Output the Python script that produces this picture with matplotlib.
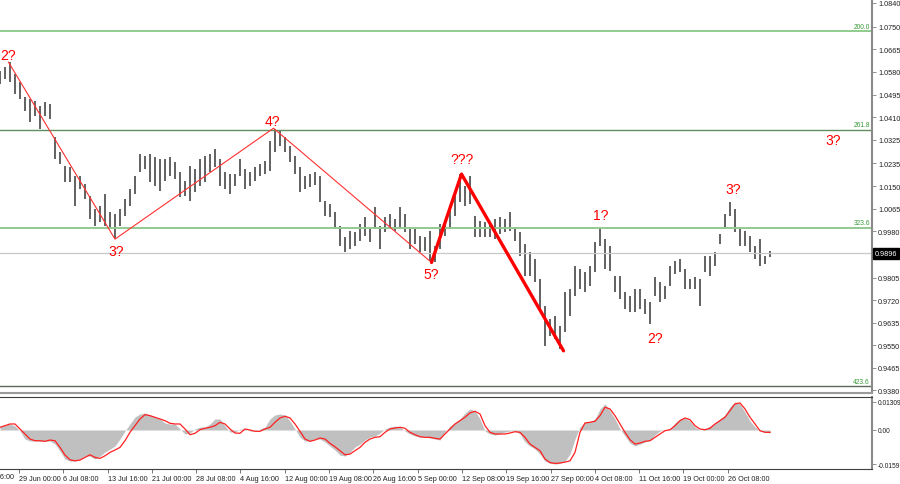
import numpy as np
import matplotlib.pyplot as plt
from matplotlib.transforms import blended_transform_factory

plt.rcParams['font.family'] = ['Liberation Sans', 'DejaVu Sans']

# H4 price bars (every bar here stands for one ~5px column of the chart)
highs = [1.0584, 1.0599, 1.0617, 1.0572, 1.0542, 1.0486, 1.0478, 1.0470, 1.0452, 1.0467,
         1.0459, 1.0335, 1.0278, 1.0225, 1.0222, 1.0188, 1.0188, 1.0158, 1.0112, 1.0063,
         1.0075, 1.0120, 1.0052, 1.0044, 1.0063, 1.0101, 1.0139, 1.0188, 1.0271, 1.0263,
         1.0271, 1.0259, 1.0252, 1.0252, 1.0259, 1.0240, 1.0203, 1.0169, 1.0225, 1.0214,
         1.0252, 1.0263, 1.0271, 1.0290, 1.0252, 1.0203, 1.0195, 1.0195, 1.0252, 1.0214,
         1.0203, 1.0222, 1.0233, 1.0244, 1.0320, 1.0365, 1.0361, 1.0335, 1.0301, 1.0263,
         1.0222, 1.0188, 1.0195, 1.0203, 1.0188, 1.0093, 1.0082, 1.0052, 0.9999, 0.9958,
         0.9980, 0.9977, 1.0007, 1.0033, 0.9988, 1.0071, 0.9999, 1.0033, 1.0044, 1.0026,
         1.0071, 1.0044, 0.9995, 0.9988, 0.9962, 0.9958, 0.9980, 0.9924, 1.0007, 1.0018,
         1.0075, 1.0112, 1.0195, 1.0150, 1.0188, 1.0037, 1.0018, 1.0014, 1.0007, 1.0026,
         1.0033, 1.0026, 1.0052, 0.9995, 0.9977, 0.9931, 0.9901, 0.9875, 0.9799, 0.9698,
         0.9649, 0.9660, 0.9622, 0.9750, 0.9762, 0.9848, 0.9837, 0.9826, 0.9848, 0.9939,
         0.9995, 0.9950, 0.9924, 0.9811, 0.9811, 0.9750, 0.9735, 0.9762, 0.9762, 0.9724,
         0.9713, 0.9807, 0.9788, 0.9773, 0.9848, 0.9867, 0.9875, 0.9837, 0.9799, 0.9807,
         0.9799, 0.9886, 0.9886, 0.9901, 0.9969, 1.0044, 1.0090, 1.0063, 0.9988, 0.9980,
         0.9962, 0.9924, 0.9950, 0.9886, 0.9905]
lows = [1.0535, 1.0553, 1.0542, 1.0497, 1.0478, 1.0433, 1.0391, 1.0414, 1.0365, 1.0414,
        1.0403, 1.0252, 1.0233, 1.0165, 1.0165, 1.0075, 1.0139, 1.0101, 1.0026, 0.9999,
        1.0014, 0.9999, 0.9988, 0.9950, 0.9999, 1.0037, 1.0075, 1.0120, 1.0203, 1.0214,
        1.0165, 1.0150, 1.0131, 1.0169, 1.0188, 1.0176, 1.0109, 1.0112, 1.0093, 1.0127,
        1.0150, 1.0165, 1.0203, 1.0222, 1.0150, 1.0139, 1.0120, 1.0150, 1.0188, 1.0139,
        1.0150, 1.0169, 1.0188, 1.0195, 1.0207, 1.0278, 1.0301, 1.0278, 1.0240, 1.0195,
        1.0127, 1.0139, 1.0146, 1.0154, 1.0090, 1.0037, 1.0033, 0.9988, 0.9924, 0.9901,
        0.9913, 0.9924, 0.9943, 0.9962, 0.9939, 0.9988, 0.9913, 0.9977, 0.9995, 0.9980,
        0.9988, 0.9977, 0.9913, 0.9931, 0.9901, 0.9905, 0.9867, 0.9863, 0.9913, 0.9962,
        0.9988, 1.0037, 1.0090, 1.0075, 1.0082, 0.9958, 0.9958, 0.9958, 0.9958, 0.9950,
        0.9969, 0.9977, 0.9980, 0.9943, 0.9886, 0.9811, 0.9811, 0.9788, 0.9686, 0.9547,
        0.9585, 0.9573, 0.9535, 0.9600, 0.9660, 0.9735, 0.9762, 0.9750, 0.9773, 0.9826,
        0.9924, 0.9837, 0.9830, 0.9750, 0.9724, 0.9686, 0.9675, 0.9675, 0.9686, 0.9667,
        0.9630, 0.9735, 0.9713, 0.9724, 0.9773, 0.9818, 0.9826, 0.9762, 0.9762, 0.9762,
        0.9698, 0.9826, 0.9811, 0.9848, 0.9931, 0.9988, 1.0037, 0.9977, 0.9924, 0.9924,
        0.9901, 0.9875, 0.9848, 0.9856, 0.9882]

# MACD panel
macd_hist = [0.00140, 0.00234, 0.00281, 0.00187, -0.00047, -0.00421, -0.00515, -0.00515, -0.00515, -0.00515,
             -0.00515, -0.00655, -0.00983, -0.01357, -0.01451, -0.01451, -0.01357, -0.01217, -0.01217, -0.01357,
             -0.01217, -0.01030, -0.00889, -0.00749, -0.00421, -0.00047, 0.00281, 0.00608, 0.00749, 0.00796,
             0.00702, 0.00608, 0.00515, 0.00328, 0.00281, 0.00281, 0.00047, -0.00187, -0.00140, 0.00047,
             0.00140, 0.00140, 0.00281, 0.00515, 0.00515, 0.00187, -0.00094, -0.00094, 0.00047, 0.00047,
             -0.00047, -0.00047, 0.00047, 0.00140, 0.00515, 0.00702, 0.00749, 0.00702, 0.00421, 0.00047,
             -0.00328, -0.00515, -0.00515, -0.00421, -0.00421, -0.00562, -0.00749, -0.00936, -0.01170, -0.01217,
             -0.01030, -0.00796, -0.00655, -0.00468, -0.00328, -0.00281, -0.00140, 0.00047, 0.00140, 0.00187,
             0.00140, -0.00047, -0.00187, -0.00281, -0.00328, -0.00328, -0.00374, -0.00421, -0.00468, -0.00094,
             0.00187, 0.00328, 0.00515, 0.00796, 0.00983, 0.00889, 0.00515, -0.00047, -0.00187, -0.00234,
             -0.00187, -0.00094, -0.00047, -0.00047, -0.00187, -0.00562, -0.00749, -0.00889, -0.01123, -0.01451,
             -0.01550, -0.01590, -0.01560, -0.01451, -0.01123, -0.00421, 0.00140, 0.00374, 0.00374, 0.00515,
             0.00983, 0.01217, 0.00889, 0.00515, 0.00047, -0.00281, -0.00608, -0.00749, -0.00655, -0.00562,
             -0.00468, -0.00234, -0.00047, 0.00000, 0.00047, 0.00328, 0.00515, 0.00562, 0.00421, 0.00140,
             0.00000, 0.00047, 0.00187, 0.00328, 0.00515, 0.00702, 0.01076, 0.01309, 0.01217, 0.00842,
             0.00421, 0.00140, -0.00047, -0.00094, -0.00140]
macd_signal = [0.00126, 0.00201, 0.00281, 0.00281, 0.00047, -0.00187, -0.00421, -0.00501, -0.00501, -0.00529,
               -0.00468, -0.00501, -0.00810, -0.01170, -0.01390, -0.01437, -0.01404, -0.01278, -0.01156, -0.01278,
               -0.01324, -0.01203, -0.01044, -0.00936, -0.00810, -0.00501, -0.00108, 0.00201, 0.00515, 0.00716,
               0.00669, 0.00594, 0.00515, 0.00435, 0.00314, 0.00281, 0.00281, 0.00047, -0.00220, -0.00154,
               0.00014, 0.00080, 0.00126, 0.00201, 0.00360, 0.00281, 0.00047, -0.00140, -0.00154, 0.00047,
               0.00000, -0.00061, -0.00061, 0.00047, 0.00126, 0.00360, 0.00562, 0.00641, 0.00562, 0.00281,
               -0.00061, -0.00421, -0.00529, -0.00468, -0.00374, -0.00421, -0.00622, -0.00782, -0.00969, -0.01156,
               -0.01123, -0.00969, -0.00810, -0.00576, -0.00421, -0.00342, -0.00314, -0.00108, 0.00047, 0.00094,
               0.00126, 0.00080, -0.00108, -0.00220, -0.00314, -0.00342, -0.00342, -0.00388, -0.00421, -0.00187,
               0.00047, 0.00281, 0.00435, 0.00594, 0.00796, 0.00875, 0.00749, 0.00201, -0.00108, -0.00187,
               -0.00187, -0.00187, -0.00140, -0.00080, -0.00108, -0.00342, -0.00655, -0.00810, -0.00969, -0.01357,
               -0.01520, -0.01560, -0.01540, -0.01500, -0.01437, -0.01044, -0.00108, 0.00328, 0.00360, 0.00407,
               0.00669, 0.01062, 0.00983, 0.00669, 0.00281, -0.00108, -0.00454, -0.00655, -0.00608, -0.00529,
               -0.00501, -0.00342, -0.00187, -0.00033, 0.00014, 0.00201, 0.00435, 0.00562, 0.00482, 0.00201,
               0.00047, 0.00014, 0.00080, 0.00281, 0.00435, 0.00594, 0.00903, 0.01217, 0.01264, 0.00983,
               0.00594, 0.00281, -0.00033, -0.00108, -0.00108]

# wave marking (bar position, price)
thin_wave_x = [1.7, 23.0, 54.7, 86.3]
thin_wave_y = [1.0617, 0.9950, 1.0368, 0.9862]
thick_wave_x = [86.3, 92.3, 112.7]
thick_wave_y = [0.9862, 1.0195, 0.9529]
wave_labels = ['2?', '3?', '4?', '5?', '???', '1?', '2?', '3?', '3?']
wave_label_x = [1.6, 23.2, 54.5, 86.2, 92.4, 120.2, 131.0, 146.6, 166.6]
wave_label_y = [1.0644, 0.9905, 1.0395, 0.9818, 1.0252, 1.0041, 0.9577, 1.0139, 1.0323]

fib_names = ['200.0', '261.8', '323.6', '423.6']
fib_prices = [1.0734, 1.0361, 0.9992, 0.9396]
fib_colors = ['#7cc47c', '#5f8f5f', '#93c993', '#5c6a5c']
fib_widths = [1.2, 1.0, 1.4, 1.0]

price_ticks = [1.0840, 1.0750, 1.0665, 1.0580, 1.0495, 1.0410, 1.0325, 1.0235, 1.0150,
               1.0065, 0.9980, 0.9805, 0.9720, 0.9635, 0.9550, 0.9465, 0.9380]
last_price = 0.9896

date_labels = ['21 Jun 16:00', '29 Jun 00:00', '6 Jul 08:00', '13 Jul 16:00', '21 Jul 00:00',
               '28 Jul 08:00', '4 Aug 16:00', '12 Aug 00:00', '19 Aug 08:00', '26 Aug 16:00',
               '5 Sep 00:00', '12 Sep 08:00', '19 Sep 16:00', '27 Sep 00:00', '4 Oct 08:00',
               '11 Oct 16:00', '19 Oct 00:00', '26 Oct 08:00']

W, H = 900, 485
fig = plt.figure(figsize=(W / 100, H / 100), dpi=100)
ax = fig.add_axes([0, 1 - 394 / H, 872 / W, 394 / H])
ax2 = fig.add_axes([0, 15 / H, 872 / W, 72 / H])

xs = np.arange(len(highs))
xmax = 872 / 5

# main price panel
ax.vlines(xs, lows, highs, color='#555555', linewidth=1.3)
for name, p, c, w in zip(fib_names, fib_prices, fib_colors, fib_widths):
    ax.axhline(p, color=c, linewidth=w)
    ax.text(xmax - 0.4, p + 0.0006, name, color='#3a9a3a', fontsize=4.8, ha='right', va='bottom')
ax.axhline(last_price, color='#c8c8c8', linewidth=0.9)
ax.plot(thin_wave_x, thin_wave_y, color='#ff3030', linewidth=0.8)
ax.plot(thick_wave_x, thick_wave_y, color='#ff0000', linewidth=2.4, solid_capstyle='round')
for t, x, y in zip(wave_labels, wave_label_x, wave_label_y):
    ax.text(x, y, t, color='#ff0000', fontsize=10, ha='center', va='center')

ax.set_xlim(0, xmax)
ax.set_ylim(0.9370, 1.0855)
ax.yaxis.tick_right()
ax.set_yticks(price_ticks)
ax.set_yticklabels([f'{v:.4f}' for v in price_ticks])
ax.tick_params(axis='y', labelsize=5.2, length=3, width=0.6, color='#808080', pad=1.5, labelcolor='#202020')
ax.set_xticks([])
for s in ['left', 'top']:
    ax.spines[s].set_visible(False)
ax.spines['right'].set_color('#8a8a8a')
ax.spines['right'].set_linewidth(1.5)
ax.spines['bottom'].set_color('#9a9a9a')
ax.spines['bottom'].set_linewidth(1.5)

tr = blended_transform_factory(ax.transAxes, ax.transData)
ax.text(1.003, last_price, f'{last_price:.4f}', transform=tr, color='white', fontsize=5.2,
        ha='left', va='center', bbox=dict(boxstyle='square,pad=0.25', fc='black', ec='black'))

# MACD panel
ax2.fill_between(xs, 0, macd_hist, color='#c0c0c0', linewidth=0)
ax2.plot(xs, macd_signal, color='#ff2020', linewidth=0.9)
ax2.set_xlim(0, xmax)
ax2.set_ylim(-0.0182, 0.0154)
ax2.yaxis.tick_right()
ax2.set_yticks([0.01309, 0.0, -0.0159])
ax2.set_yticklabels(['0.01309', '0.00', '-0.0159'])
ax2.tick_params(axis='y', labelsize=4.8, length=3, width=0.6, color='#808080', pad=1.2, labelcolor='#202020')

step = 44.3 / 5
first = (19 - 44.3) / 5
tick_pos = [first + k * step for k in range(len(date_labels))]
ax2.set_xticks(tick_pos[1:])
ax2.set_xticklabels(date_labels[1:], ha='left')
ax2.tick_params(axis='x', labelsize=5.2, length=3, width=0.6, color='#606060', pad=1.5, labelcolor='#202020')
ax2.text(tick_pos[0] - 0.6, -0.0182 - 0.0021, date_labels[0], fontsize=5.2, color='#202020',
         ha='left', va='top', clip_on=False)
ax2.spines['left'].set_visible(False)
ax2.spines['top'].set_color('#404040')
ax2.spines['right'].set_color('#8a8a8a')
ax2.spines['right'].set_linewidth(1.5)
ax2.spines['bottom'].set_color('#404040')

fig.savefig('out.png', dpi=100)
